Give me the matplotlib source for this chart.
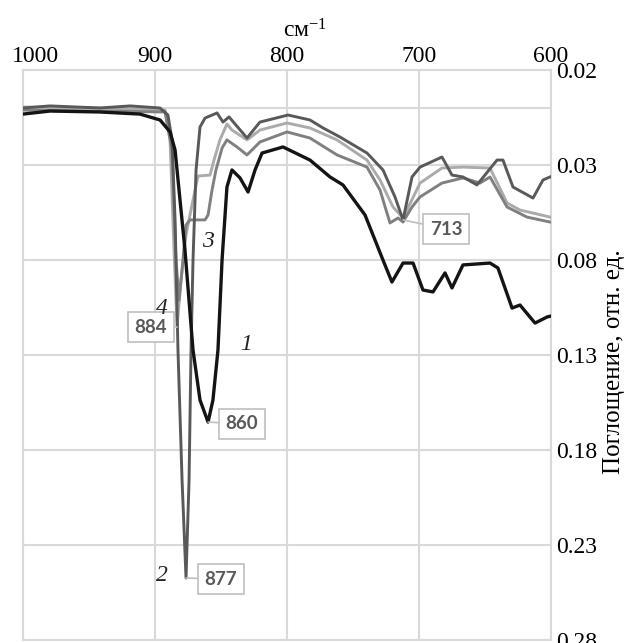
import matplotlib
matplotlib.use("Agg")
import matplotlib.pyplot as plt
from matplotlib.transforms import ScaledTranslation

plt.rcParams['mathtext.fontset'] = 'custom'
plt.rcParams['mathtext.rm'] = 'Liberation Serif'
plt.rcParams['mathtext.it'] = 'Liberation Serif:italic'

# IR spectra, wavenumber (cm^-1) vs absorbance (reversed axis)
w1 = [1000, 979.5, 941.7, 911.4, 896.2, 888.6, 884.8, 877.3, 871.2, 865.9, 859.8, 856.1, 852.3, 849.2,
      845.5, 841.7, 835.6, 829.5, 824.2, 818.9, 803, 782.6, 767.4, 757.6, 740.9, 727.3, 720.5, 712.1,
      704.5, 697, 689.4, 680.3, 675, 666.7, 646.2, 640.2, 629.5, 623.5, 612.1, 603, 600]
a1 = [0.0032, 0.0016, 0.0021, 0.0032, 0.0063, 0.0126, 0.0221, 0.0747, 0.1274, 0.1537, 0.1653, 0.1537,
      0.1274, 0.08, 0.0416, 0.0326, 0.0368, 0.0442, 0.0326, 0.0237, 0.0205, 0.0274, 0.0363, 0.0405,
      0.0563, 0.08, 0.0916, 0.0816, 0.0816, 0.0958, 0.0968, 0.0868, 0.0947, 0.0826, 0.0816, 0.0842,
      0.1053, 0.1037, 0.1132, 0.11, 0.1095]

w2 = [1000, 979.5, 941.7, 918.9, 896.2, 890.2, 887.1, 884.8, 882.6, 879.5, 876.5, 874.2, 872.7, 871.2,
      868.9, 865.9, 862.1, 853.0, 848.5, 843.9, 830.3, 820.5, 799.2, 782.6, 772.7, 759.8, 739.4, 727.3,
      718.2, 712.1, 705.3, 699.2, 682.6, 675, 666.7, 656.1, 640.9, 636.4, 628.8, 613.6, 606.1, 600.8]
a2 = [0.0, -0.0011, 0.0, -0.0011, 0.0, 0.0037, 0.0168, 0.0589, 0.1274, 0.1958, 0.2474, 0.1958, 0.1274,
      0.08, 0.0326, 0.01, 0.0053, 0.0026, 0.0074, 0.0047, 0.0158, 0.0074, 0.0037, 0.0063, 0.0105, 0.0153,
      0.0237, 0.0326, 0.0468, 0.0589, 0.0363, 0.0311, 0.0258, 0.0353, 0.0363, 0.0405, 0.0274, 0.0274,
      0.0416, 0.0474, 0.0379, 0.0363]

w3 = [1000, 941.7, 892.4, 887.1, 884.1, 881.8, 879.5, 876.5, 873.5, 862.1, 859.8, 856.8, 853.8, 849.2,
      845.5, 837.9, 830.3, 820.5, 800, 782.6, 762.1, 739.4, 729.5, 722, 715.9, 712.1, 705.3, 699.2,
      682.6, 666.7, 653.8, 646.2, 633.3, 618.2, 608.3, 600.8]
a3 = [0.0011, 0.0016, 0.0021, 0.0221, 0.08, 0.1011, 0.0853, 0.0616, 0.0589, 0.0589, 0.0563, 0.0432,
      0.0326, 0.0211, 0.0168, 0.0205, 0.0247, 0.0179, 0.0126, 0.0158, 0.0247, 0.0311, 0.0432, 0.0605,
      0.0579, 0.06, 0.0521, 0.0468, 0.0395, 0.0368, 0.0395, 0.0363, 0.0521, 0.0574, 0.0589, 0.06]

w4 = [1000, 941.7, 892.4, 888.6, 885.6, 883.3, 880.3, 876.5, 872, 867.4, 858.3, 855.3, 850.8, 845.5,
      841.7, 830.3, 820.5, 800, 782.6, 762.1, 739.4, 729.5, 719.7, 712.1, 699.2, 682.6, 666.7, 646.2,
      633.3, 623.5, 600.8]
a4 = [-0.0005, 0.0, 0.0011, 0.0168, 0.0747, 0.1153, 0.0905, 0.0668, 0.0511, 0.0358, 0.0353, 0.0274,
      0.0168, 0.0084, 0.0116, 0.0168, 0.0116, 0.0079, 0.0105, 0.0168, 0.0274, 0.0379, 0.0521, 0.0579,
      0.0395, 0.0316, 0.0311, 0.0316, 0.05, 0.0537, 0.0574]

x_ticks = [1000, 900, 800, 700, 600]
y_ticks = [-0.02, 0.03, 0.08, 0.13, 0.18, 0.23, 0.28]
y_labels = ['0.02', '0.03', '0.08', '0.13', '0.18', '0.23', '0.28']

# peak callouts: label, peak point, box position
peaks = [('884', 883.3, 0.1153, 903.0, 0.1153),
         ('860', 859.8, 0.1653, 834.1, 0.1663),
         ('877', 876.5, 0.2474, 850.0, 0.2479),
         ('713', 712.1, 0.0589, 679.5, 0.0637)]
curve_names = [('1', 831.1, 0.1247), ('2', 894.7, 0.2458), ('3', 859.8, 0.0705), ('4', 894.7, 0.1053)]

grid_c = '#d9d9d9'
serif = 'Liberation Serif'

fig = plt.figure(figsize=(6.34, 6.43), dpi=100)
ax = fig.add_axes([23 / 634, 3 / 643, 528 / 634, 570 / 643])

ax.plot(w4, a4, color='#ababab', lw=2.1, zorder=3)
ax.plot(w3, a3, color='#808080', lw=2.1, zorder=4)
ax.plot(w2, a2, color='#595959', lw=2.1, zorder=5)
ax.plot(w1, a1, color='#141414', lw=2.4, zorder=6)

ax.set_xlim(1000, 600)
ax.set_ylim(0.28, -0.02)
ax.set_xticks(x_ticks)
ax.set_yticks(y_ticks)
ax.set_yticklabels(y_labels)
ax.xaxis.tick_top()
ax.yaxis.tick_right()
ax.tick_params(axis='x', length=0, labelsize=17, pad=2)
ax.tick_params(axis='y', length=0, labelsize=17, pad=4)
for lab in ax.get_xticklabels() + ax.get_yticklabels():
    lab.set_family(serif)
# first label is pushed inside the chart area
first = ax.get_xticklabels()[0]
first.set_transform(first.get_transform() + ScaledTranslation(0.12, 0, fig.dpi_scale_trans))
ax.grid(True, color=grid_c, lw=1.5, zorder=0)
ax.axhline(0, color=grid_c, lw=1.5, zorder=1)
for s in ax.spines.values():
    s.set_color(grid_c)
    s.set_linewidth(1.5)

fig.text(305 / 634, 1 - 37 / 643, 'см$^{-1}$', family=serif, fontsize=17, ha='center', va='baseline')
fig.text(614 / 634, 1 - 362 / 643, 'Поглощение, отн. ед.', family=serif, fontsize=18,
         rotation=90, ha='center', va='center')

for txt, px, py, bx, by in peaks:
    ax.annotate(txt, xy=(px, py), xytext=(bx, by), ha='center', va='center',
                family='Lato', fontweight='bold', fontsize=13.5, color='#595959',
                bbox=dict(boxstyle='square,pad=0.35', fc='white', ec='#bfbfbf', lw=1.2),
                arrowprops=dict(arrowstyle='-', color='#bfbfbf', lw=1.2, shrinkA=0, shrinkB=0),
                zorder=8)

for txt, x, y in curve_names:
    ax.text(x, y, txt, family=serif, style='italic', fontsize=17, ha='center', va='center',
            color='#222222', zorder=9)

fig.savefig('out.png', dpi=100)
